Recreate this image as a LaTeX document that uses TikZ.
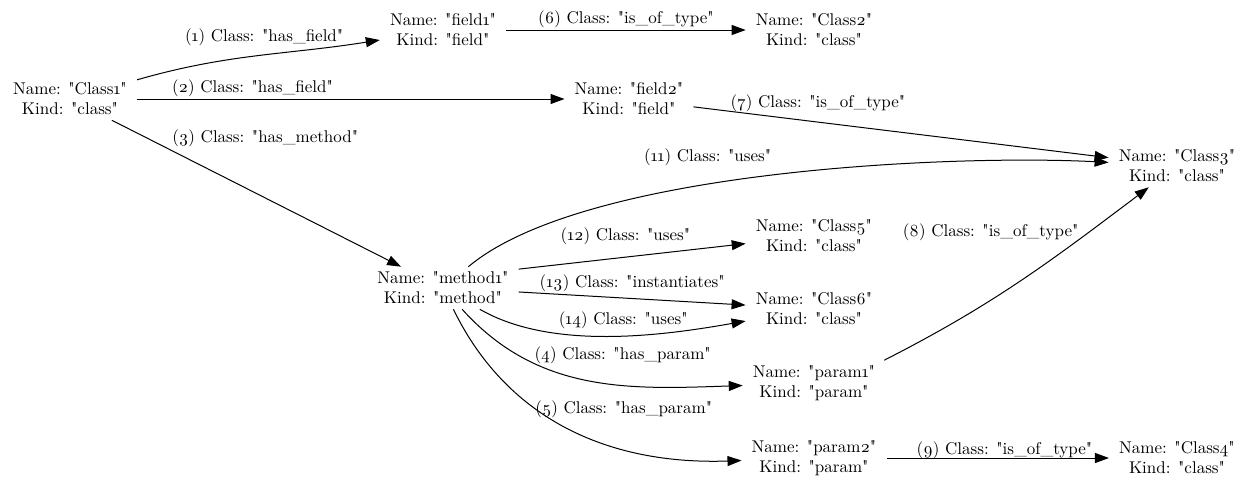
\documentclass[tikz,border=0pt]{standalone}
\usepackage{fontspec}
\setmainfont{lmroman10-regular}[Extension=.otf,Numbers=OldStyle,Ligatures=TeXOff]
\usetikzlibrary{arrows.meta,positioning}

\begin{document}
\begin{tikzpicture}[x=1pt,y=1pt,>={Triangle[length=14pt,width=10pt]},
  obj/.style={align=center,inner xsep=10pt,inner ysep=5pt,font=\fontsize{17}{20}\selectfont},
  rel/.style={->,line width=1pt},
  lbl/.style={font=\fontsize{17}{20}\selectfont,inner sep=2pt}]
  \useasboundingbox (0,0) rectangle (1255,-491);

  \node[obj] (class1)  at (70,-99)   {Name: "Class1"\\Kind: "class"};
  \node[obj] (field1)  at (443,-30)  {Name: "field1"\\Kind: "field"};
  \node[obj] (class2)  at (814,-30)  {Name: "Class2"\\Kind: "class"};
  \node[obj] (field2)  at (629,-99)  {Name: "field2"\\Kind: "field"};
  \node[obj] (class3)  at (1177,-166) {Name: "Class3"\\Kind: "class"};
  \node[obj] (class5)  at (814,-236) {Name: "Class5"\\Kind: "class"};
  \node[obj] (method1) at (443,-288) {Name: "method1"\\Kind: "method"};
  \node[obj] (class6)  at (814,-309) {Name: "Class6"\\Kind: "class"};
  \node[obj] (param1)  at (814,-383) {Name: "param1"\\Kind: "param"};
  \node[obj] (param2)  at (814,-458) {Name: "param2"\\Kind: "param"};
  \node[obj] (class4)  at (1177,-458) {Name: "Class4"\\Kind: "class"};

  \draw[rel] (class1) to[out=16,in=189] node[lbl,pos=0.53,above=7pt]{(1) Class: "has\_field"} (field1);
  \draw[rel] (class1) -- node[lbl,pos=0.27,above]{(2) Class: "has\_field"} (field2);
  \draw[rel] (class1) -- node[lbl,pos=0.2,anchor=south west]{(3) Class: "has\_method"} (method1);
  \draw[rel] (field1) -- node[lbl,above]{(6) Class: "is\_of\_type"} (class2);
  \draw[rel] (field2) -- node[lbl,pos=0.3,above=8pt]{(7) Class: "is\_of\_type"} (class3);
  \draw[rel] (method1) to[out=40,in=177,looseness=0.6] node[lbl,pos=0.41,above=16pt]{(11) Class: "uses"} (class3);
  \draw[rel] (method1.14) -- node[lbl,pos=0.47,above=10pt]{(12) Class: "uses"} (class5);
  \draw[rel] (method1.-3) -- node[lbl,pos=0.5,above=4pt]{(13) Class: "instantiates"} (class6);
  \draw[rel] (method1) to[out=-30,in=190,looseness=0.8] node[lbl,pos=0.55,above=5pt]{(14) Class: "uses"} (class6);
  \draw[rel] (method1) to[out=-48,in=182] node[lbl,pos=0.62,above=19pt]{(4) Class: "has\_param"} (param1);
  \draw[rel] (method1) to[out=-64,in=182] node[lbl,pos=0.67,above=29pt]{(5) Class: "has\_param"} (param2);
  \draw[rel] (param1.18) to[out=27,in=217] node[lbl,pos=0.78,left=8pt]{(8) Class: "is\_of\_type"} (class3);
  \draw[rel] (param2) -- node[lbl,pos=0.53,above=-3pt]{(9) Class: "is\_of\_type"} (class4);
\end{tikzpicture}
\end{document}
